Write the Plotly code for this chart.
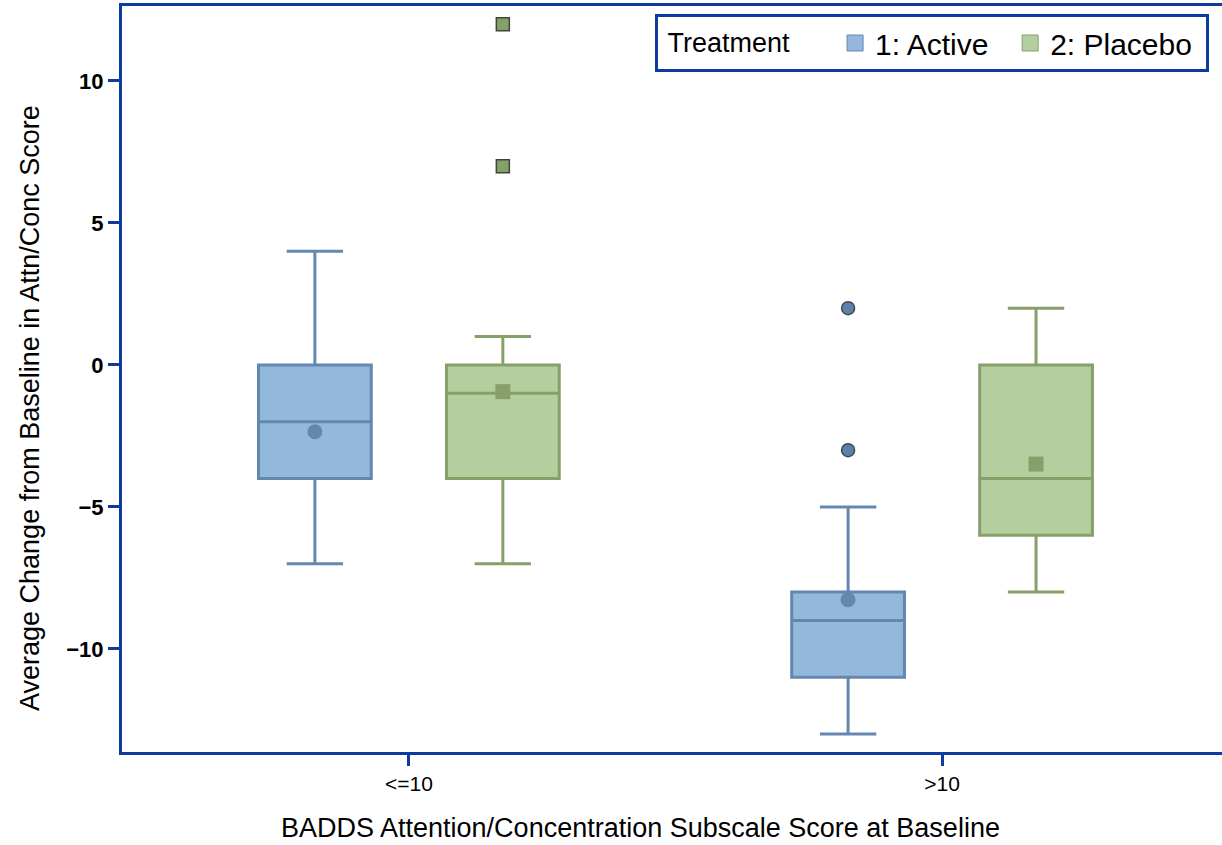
import plotly.graph_objects as go

# ---- data ----
groups = ["<=10", ">10"]
treatments = ["1: Active", "2: Placebo"]

active_q1 = [-4, -11]
active_median = [-2, -9]
active_q3 = [0, -8]
active_lower = [-7, -13]
active_upper = [4, -5]
active_mean = [-2.35, -8.27]
active_out_x = [">10", ">10"]
active_out_y = [2, -3]

placebo_q1 = [-4, -6]
placebo_median = [-1, -4]
placebo_q3 = [0, 0]
placebo_lower = [-7, -8]
placebo_upper = [1, 2]
placebo_mean = [-0.94, -3.49]
placebo_out_x = ["<=10", "<=10"]
placebo_out_y = [12, 7]

y_ticks = [-10, -5, 0, 5, 10]

# ---- styles ----
AX = "#0D3B9E"
A_LINE, A_FILL, A_PT = "#6487AF", "#94B8DB", "#5E80A9"
P_LINE, P_FILL, P_PT = "#87A06A", "#B4CEA0", "#86A06A"
FONT = "Liberation Sans"

fig = go.Figure()

def add_group(name, og, q1, med, q3, lo, hi, mean, ox, oy, line_c, fill_c, pt_c, mean_sym, out_sym, out_line):
    fig.add_trace(go.Box(
        x=groups, q1=q1, median=med, q3=q3, lowerfence=lo, upperfence=hi,
        name=name, offsetgroup=og, fillcolor=fill_c,
        line=dict(color=line_c, width=3), whiskerwidth=0.5,
        boxpoints=False, showlegend=False, hoverinfo="y"))
    fig.add_trace(go.Scatter(
        x=ox, y=oy, mode="markers", orientation="v", offsetgroup=og,
        marker=dict(symbol=out_sym, size=13, color=pt_c, line=dict(color=out_line, width=1.5)),
        showlegend=False, name=name))
    fig.add_trace(go.Scatter(
        x=groups, y=mean, mode="markers", orientation="v", offsetgroup=og,
        marker=dict(symbol=mean_sym, size=15, color=line_c, line=dict(width=0)),
        showlegend=False, name=name + " mean"))

add_group(treatments[0], "A", active_q1, active_median, active_q3, active_lower, active_upper,
          active_mean, active_out_x, active_out_y, A_LINE, A_FILL, A_PT, "circle", "circle", "#3E4A58")
add_group(treatments[1], "P", placebo_q1, placebo_median, placebo_q3, placebo_lower, placebo_upper,
          placebo_mean, placebo_out_x, placebo_out_y, P_LINE, P_FILL, P_PT, "square", "square", "#3F4638")

# legend-only entries (trailing spaces only for spacing between entries)
for nm, fc, lc, pad in [(treatments[0], A_FILL, A_LINE, 2), (treatments[1], P_FILL, P_LINE, 1)]:
    fig.add_trace(go.Scatter(x=[None], y=[None], mode="markers", name=nm + "\u00a0" * pad,
                             marker=dict(symbol="square", size=16, color=fc, line=dict(color=lc, width=1))))

L, T, R, B = 122, 6, 0, 93
W, H = 1222, 845
pw = W - L - R
ph = H - T - B

fig.update_layout(
    width=W, height=H,
    margin=dict(l=L, r=R, t=T, b=B, autoexpand=False),
    paper_bgcolor="white", plot_bgcolor="white",
    boxmode="group", boxgap=0.295, boxgroupgap=0.4,
    scattermode="group", scattergap=0.295,
    font=dict(family=FONT, color="black"),
    legend=dict(
        orientation="h", x=(655 - L) / pw, xanchor="left",
        y=(H - B - 14) / ph, yanchor="top",
        bordercolor=AX, borderwidth=3, bgcolor="white",
        font=dict(family=FONT, size=30, color="black"),
        title=dict(text="\u00a0Treatment" + "\u00a0" * 5, side="left",
                   font=dict(family=FONT, size=27, color="black")),
        itemclick=False,
    ),
    xaxis=dict(
        type="category", categoryorder="array", categoryarray=groups,
        range=[-0.538, 1.525],
        showline=True, linecolor=AX, linewidth=3, mirror=True,
        ticks="outside", ticklen=11, tickwidth=3, tickcolor=AX,
        tickfont=dict(family=FONT, size=21, color="black"),
        showgrid=False, zeroline=False,
    ),
    yaxis=dict(
        range=[-13.63, 12.64],
        tickvals=y_ticks, ticktext=[str(v).replace("-", "−") for v in y_ticks],
        showline=True, linecolor=AX, linewidth=3, mirror=False,
        ticks="outside", ticklen=11, tickwidth=3, tickcolor=AX,
        tickfont=dict(family=FONT, size=22, color="black", weight="bold"),
        showgrid=False, zeroline=False,
    ),
    annotations=[
        dict(text="BADDS Attention/Concentration Subscale Score at Baseline",
             xref="paper", yref="paper", x=(640 - L) / pw, y=(H - B - 828) / ph,
             xanchor="center", yanchor="middle", showarrow=False,
             font=dict(family=FONT, size=27, color="black")),
        dict(text="Average Change from Baseline in Attn/Conc Score",
             xref="paper", yref="paper", x=(30 - L) / pw, y=(H - B - 408) / ph,
             xanchor="center", yanchor="middle", showarrow=False, textangle=-90,
             font=dict(family=FONT, size=27, color="black")),
    ],
)

fig.write_html("out.html", config={"displayModeBar": False},
               post_script="document.body.style.margin='0';document.body.style.padding='0';")
